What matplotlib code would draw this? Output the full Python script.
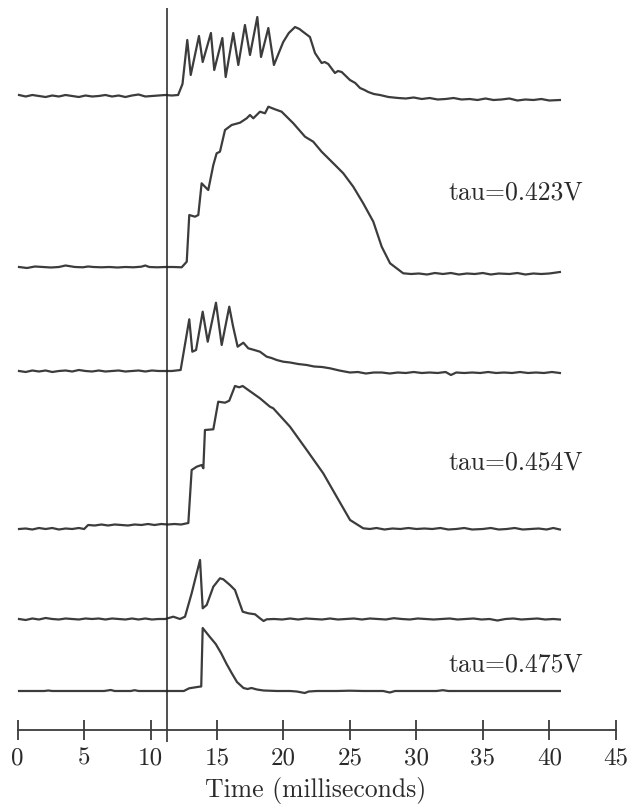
import numpy as np
import matplotlib
matplotlib.use("Agg")
import matplotlib.pyplot as plt

plt.rcParams['font.family'] = ['cmr10', 'DejaVu Serif']
plt.rcParams['axes.formatter.use_mathtext'] = True

# stimulus onset (ms)
stim_time = 11.24

# trace 1 (top)
t1 = [0.1, 0.6, 1.1, 1.6, 2.1, 2.6, 3.1, 3.6, 4.1, 4.6, 5.1, 5.6, 6.1, 6.6, 7.1, 7.6, 8.1, 8.6, 9.1, 9.6,
      10.1, 10.6, 11.1, 11.6, 12.07, 12.4, 12.76, 13.02, 13.64, 13.92, 14.54, 14.79, 15.40, 15.65, 16.22,
      16.60, 17.10, 17.48, 18.03, 18.31, 18.86, 19.28, 19.98, 20.4, 20.87, 21.2, 21.49, 21.99, 22.37, 22.87,
      23.1, 23.37, 23.87, 24.1, 24.38, 25.0, 25.4, 25.76, 26.1, 26.38, 26.8, 27.26, 27.9, 28.64, 29.2, 29.8,
      30.4, 31.0, 31.6, 32.2, 32.8, 33.4, 34.0, 34.6, 35.2, 35.8, 36.4, 37.0, 37.6, 38.2, 38.8, 39.4, 40.0, 40.8]
v1 = [1, -0.5, 1, 0, -1, 0.5, -0.5, 1, 0, -1, 0.5, -0.5, 0, 1, -0.5, 0.5, -1, 0.5, 1.5, -0.5,
      0, 0.5, 1, 0.5, 1, 12, 56, 21, 60, 34, 63, 26, 58, 19, 63,
      31, 71, 41, 79, 39, 68, 31, 54, 63, 69, 67, 64, 59, 43, 33,
      34, 32, 23, 25, 24, 16, 13, 8, 6, 4, 2, 1, -1, -2, -2.5, -1.5,
      -3, -2, -3.5, -3, -2, -3.5, -3, -4, -2.5, -4, -3.5, -2.5, -4.5, -3.5, -4, -3, -4.5, -4]

# trace 2 (tau=0.423V)
t2 = [0.1, 0.7, 1.3, 1.9, 2.5, 3.1, 3.6, 4.3, 4.9, 5.3, 5.7, 6.3, 6.9, 7.5, 8.1, 8.7, 9.3, 9.6, 9.9, 10.5,
      11.1, 11.7, 12.34, 12.72, 12.91, 13.34, 13.59, 13.84, 14.09, 14.34, 14.72, 14.97, 15.22, 15.60, 16.10,
      16.73, 17.23, 17.48, 17.73, 18.23, 18.61, 18.86, 19.36, 19.86, 20.74, 21.62, 22.24, 22.87, 23.75, 24.50,
      25.25, 26.00, 26.76, 27.39, 28.02, 29.01, 29.6, 30.2, 30.8, 31.4, 32.0, 32.6, 33.2, 33.8, 34.4, 35.0,
      35.6, 36.2, 37.0, 37.6, 38.2, 38.8, 39.4, 40.0, 40.8]
v2 = [0, -1, 0.5, 0, -0.5, 0, 1.5, 0, -0.3, 0.5, 0, -0.3, 0, -0.5, 0, -0.3, 0.3, 1.5, 0, -0.3,
      0, 0, -0.3, 5.3, 52, 50.3, 52, 83.7, 80.3, 77, 102, 113.7, 115.3, 137, 142,
      144.3, 148.7, 152, 148.7, 155.3, 153.7, 160.3, 157.7, 155.3, 143.7, 130.3, 125.3, 115.3, 103.7, 93.7,
      80.3, 63.7, 45.3, 20.3, 3.7, -6.3, -7, -6.5, -7.5, -6, -7, -6, -7.5, -6.5, -7, -6,
      -7.5, -6.5, -7, -6, -7.5, -6.5, -7, -6.5, -5]

# trace 3
t3 = [0.1, 0.6, 1.1, 1.6, 2.1, 2.6, 3.1, 3.6, 4.1, 4.6, 5.1, 5.6, 6.1, 6.6, 7.1, 7.6, 8.1, 8.6, 9.1, 9.6,
      10.1, 10.6, 11.1, 11.6, 12.26, 12.91, 13.14, 13.42, 13.92, 14.30, 14.92, 15.35, 15.92, 16.2, 16.55,
      16.98, 17.35, 17.8, 18.23, 18.74, 19.1, 19.49, 19.98, 20.5, 21.1, 21.75, 22.3, 22.9, 23.5, 24.2, 25.0,
      25.6, 26.2, 26.8, 27.4, 28.0, 28.6, 29.2, 29.8, 30.4, 31.0, 31.6, 32.2, 32.6, 33.0, 33.6, 34.2, 34.8,
      35.4, 36.0, 36.6, 37.2, 37.8, 38.4, 39.0, 39.6, 40.2, 40.8]
v3 = [0, -1, 0.5, -0.5, 0.5, -1, 0, 0.5, -0.5, 1, 0, -0.5, 0.5, -0.5, 0, 0.5, -0.5, 0, 0.5, -0.5,
      0.5, 0, 0, 0, 1, 51.7, 19.3, 21, 59.3, 29.3, 68.3, 26, 64.3, 45, 24.3,
      28.3, 22.7, 21, 19.3, 14.3, 13, 11, 9.3, 8.5, 7, 6, 4.5, 4, 2.7, 0.5, -1.5,
      -1, -2.5, -1.5, -1.5, -2.5, -1.5, -2, -1, -2, -1.5, -2, -1, -4, -1.5, -2, -1.5, -2,
      -1, -2, -1.5, -2, -1, -2, -1.5, -2, -1, -2]

# trace 4 (tau=0.454V)
t4 = [0.1, 0.6, 1.1, 1.6, 2.1, 2.6, 3.1, 3.6, 4.1, 4.6, 5.0, 5.3, 5.8, 6.3, 6.8, 7.3, 7.8, 8.3, 8.8, 9.3,
      9.8, 10.3, 10.8, 11.3, 11.8, 12.3, 12.84, 13.09, 13.47, 13.84, 13.97, 14.09, 14.72, 15.09, 15.60,
      15.92, 16.35, 16.67, 16.93, 17.35, 18.23, 18.98, 19.23, 20.49, 21.75, 22.99, 24.00, 25.01, 26.00,
      26.5, 27.0, 27.6, 28.2, 28.8, 29.4, 30.0, 30.6, 31.2, 31.8, 32.4, 33.0, 33.6, 34.2, 35.0, 35.6, 36.2,
      36.8, 37.4, 38.0, 38.6, 39.2, 39.8, 40.3, 40.8]
v4 = [-3, -2.5, -3.5, -2, -3, -2, -3.5, -2.5, -3, -2, -3, 1, 0.5, 1.5, 0.5, 1.5, 1, 0.5, 1.5, 1,
      2, 1, 2, 1.5, 2, 1.5, 3, 56, 59.3, 61, 57.7, 96, 96.7, 124.3, 123.3,
      125.3, 140, 138.7, 140, 136, 127.7, 119.3, 117.7, 99.3, 76, 52.7, 29.3, 6, -2.3,
      -3, -2, -3.5, -2.5, -3, -2, -3, -2.5, -3, -2, -3.5, -3, -2, -3.5, -3, -2, -3.5,
      -3, -2, -3.5, -3, -2.5, -3.5, -2, -3.5]

# trace 5
t5 = [0.1, 0.6, 1.1, 1.6, 2.1, 2.6, 3.1, 3.6, 4.1, 4.6, 5.1, 5.6, 6.1, 6.6, 7.1, 7.6, 8.1, 8.6, 9.1, 9.6,
      10.1, 10.6, 11.1, 11.71, 12.21, 12.59, 13.09, 13.72, 13.92, 14.22, 14.72, 15.22, 15.47, 15.97, 16.35,
      16.93, 17.35, 17.86, 18.23, 18.5, 18.74, 19.3, 19.9, 20.5, 21.1, 21.7, 22.3, 22.9, 23.5, 24.1, 24.7,
      25.3, 25.9, 26.5, 27.1, 27.7, 28.3, 28.9, 29.5, 30.1, 30.7, 31.3, 31.9, 32.5, 33.1, 33.7, 34.3, 34.9,
      35.5, 36.1, 36.7, 37.3, 37.9, 38.5, 39.1, 39.7, 40.3, 40.8]
v5 = [0, -1, 0.5, -0.5, 1, 0, -0.5, 0.5, 0, -0.5, 0.5, 0, 0.5, -0.5, 0.5, 0, -0.5, 0.5, -0.5, 0.5,
      -0.5, 0, 0, 2.3, 0, 2.3, 25.7, 59, 10.7, 14, 32.3, 40.7, 39.7, 34, 29,
      7.3, 5.7, 4.7, 0.7, -2, -0.3, 0, -0.5, 0.5, -0.5, 0.5, 0, -0.5, 0.5, -0.5, 0,
      0.5, -0.5, 0.5, 0, -0.5, 0.8, 0, -0.5, 0.5, 0, -0.5, 0, 0.5, -0.5, 0, 0.5, -0.5,
      0, -1.5, 0, 0.5, -0.5, 0, 0.5, -0.5, 0, -0.5]

# trace 6 (tau=0.475V)
t6 = [0.1, 2.0, 2.3, 2.6, 5.0, 6.5, 7.0, 7.3, 8.5, 8.8, 9.1, 10.3, 11.0, 12.0, 12.5, 12.9, 13.66, 13.81,
      13.92, 14.4, 14.9, 15.3, 15.72, 16.1, 16.5, 16.99, 17.3, 17.59, 18.0, 18.5, 19.5, 20.5, 21.0, 21.6,
      21.9, 22.5, 24.0, 25.0, 26.0, 27.5, 28.0, 28.4, 30.0, 31.5, 32.0, 32.4, 34.0, 36.0, 38.0, 40.8]
v6 = [0, 0, 0.5, 0, 0, 0, 1, 0, 0, 0.8, 0, 0, 0, 0, 0, 2.7, 4.3, 4.5,
      63, 55, 47, 38, 27, 18, 9, 3, 2, 3, 1.5, 0.5, 0, 0, -0.5, -2,
      -0.5, 0, 0, 0.3, 0, 0, -1.5, 0, 0, 0, 0.8, 0, 0, 0, 0, 0]

traces = [(t1, v1), (t2, v2), (t3, v3), (t4, v4), (t5, v5), (t6, v6)]
labels = ["tau=0.423V", "tau=0.454V", "tau=0.475V"]
xticks = [0, 5, 10, 15, 20, 25, 30, 35, 40, 45]

# layout (rows measured from top of the axes)
axis_row = 730
baselines = [96, 267, 371, 526, 619, 691]
label_rows = [193, 463, 665]
ink = "#3c3c3c"

fig = plt.figure(figsize=(6.31, 8.06), dpi=100)
ax = fig.add_axes([0, (806 - axis_row) / 806, 1, axis_row / 806])

for (t, v), base in zip(traces, baselines):
    ax.plot(t, base - np.array(v), color=ink, lw=1.6, solid_joinstyle="round")

ax.vlines(stim_time, 8, 742, color="#202020", lw=1.1, clip_on=False)

for lab, row in zip(labels, label_rows):
    ax.text(37.5, row, lab, ha="center", va="center", fontsize=18.5, color="#2a2a2a")

ax.set_xlim(-1.332, 46.15)
ax.set_ylim(axis_row, 0)
for s in ["top", "left", "right"]:
    ax.spines[s].set_visible(False)
ax.spines["bottom"].set_bounds(0, 45)
ax.spines["bottom"].set_linewidth(1.3)
ax.spines["bottom"].set_color(ink)
ax.set_yticks([])
ax.set_xticks(xticks)
ax.set_xticklabels([str(x) for x in xticks])
ax.tick_params(axis="x", direction="inout", length=14, width=1.3, color=ink,
               labelsize=18, labelcolor="#2a2a2a", pad=5.5)
ax.set_xlabel("Time (milliseconds)", fontsize=18.5, color="#2a2a2a", va="center")
ax.xaxis.set_label_coords(0.5, -(791 - axis_row) / axis_row)

fig.savefig("out.png", dpi=100)
